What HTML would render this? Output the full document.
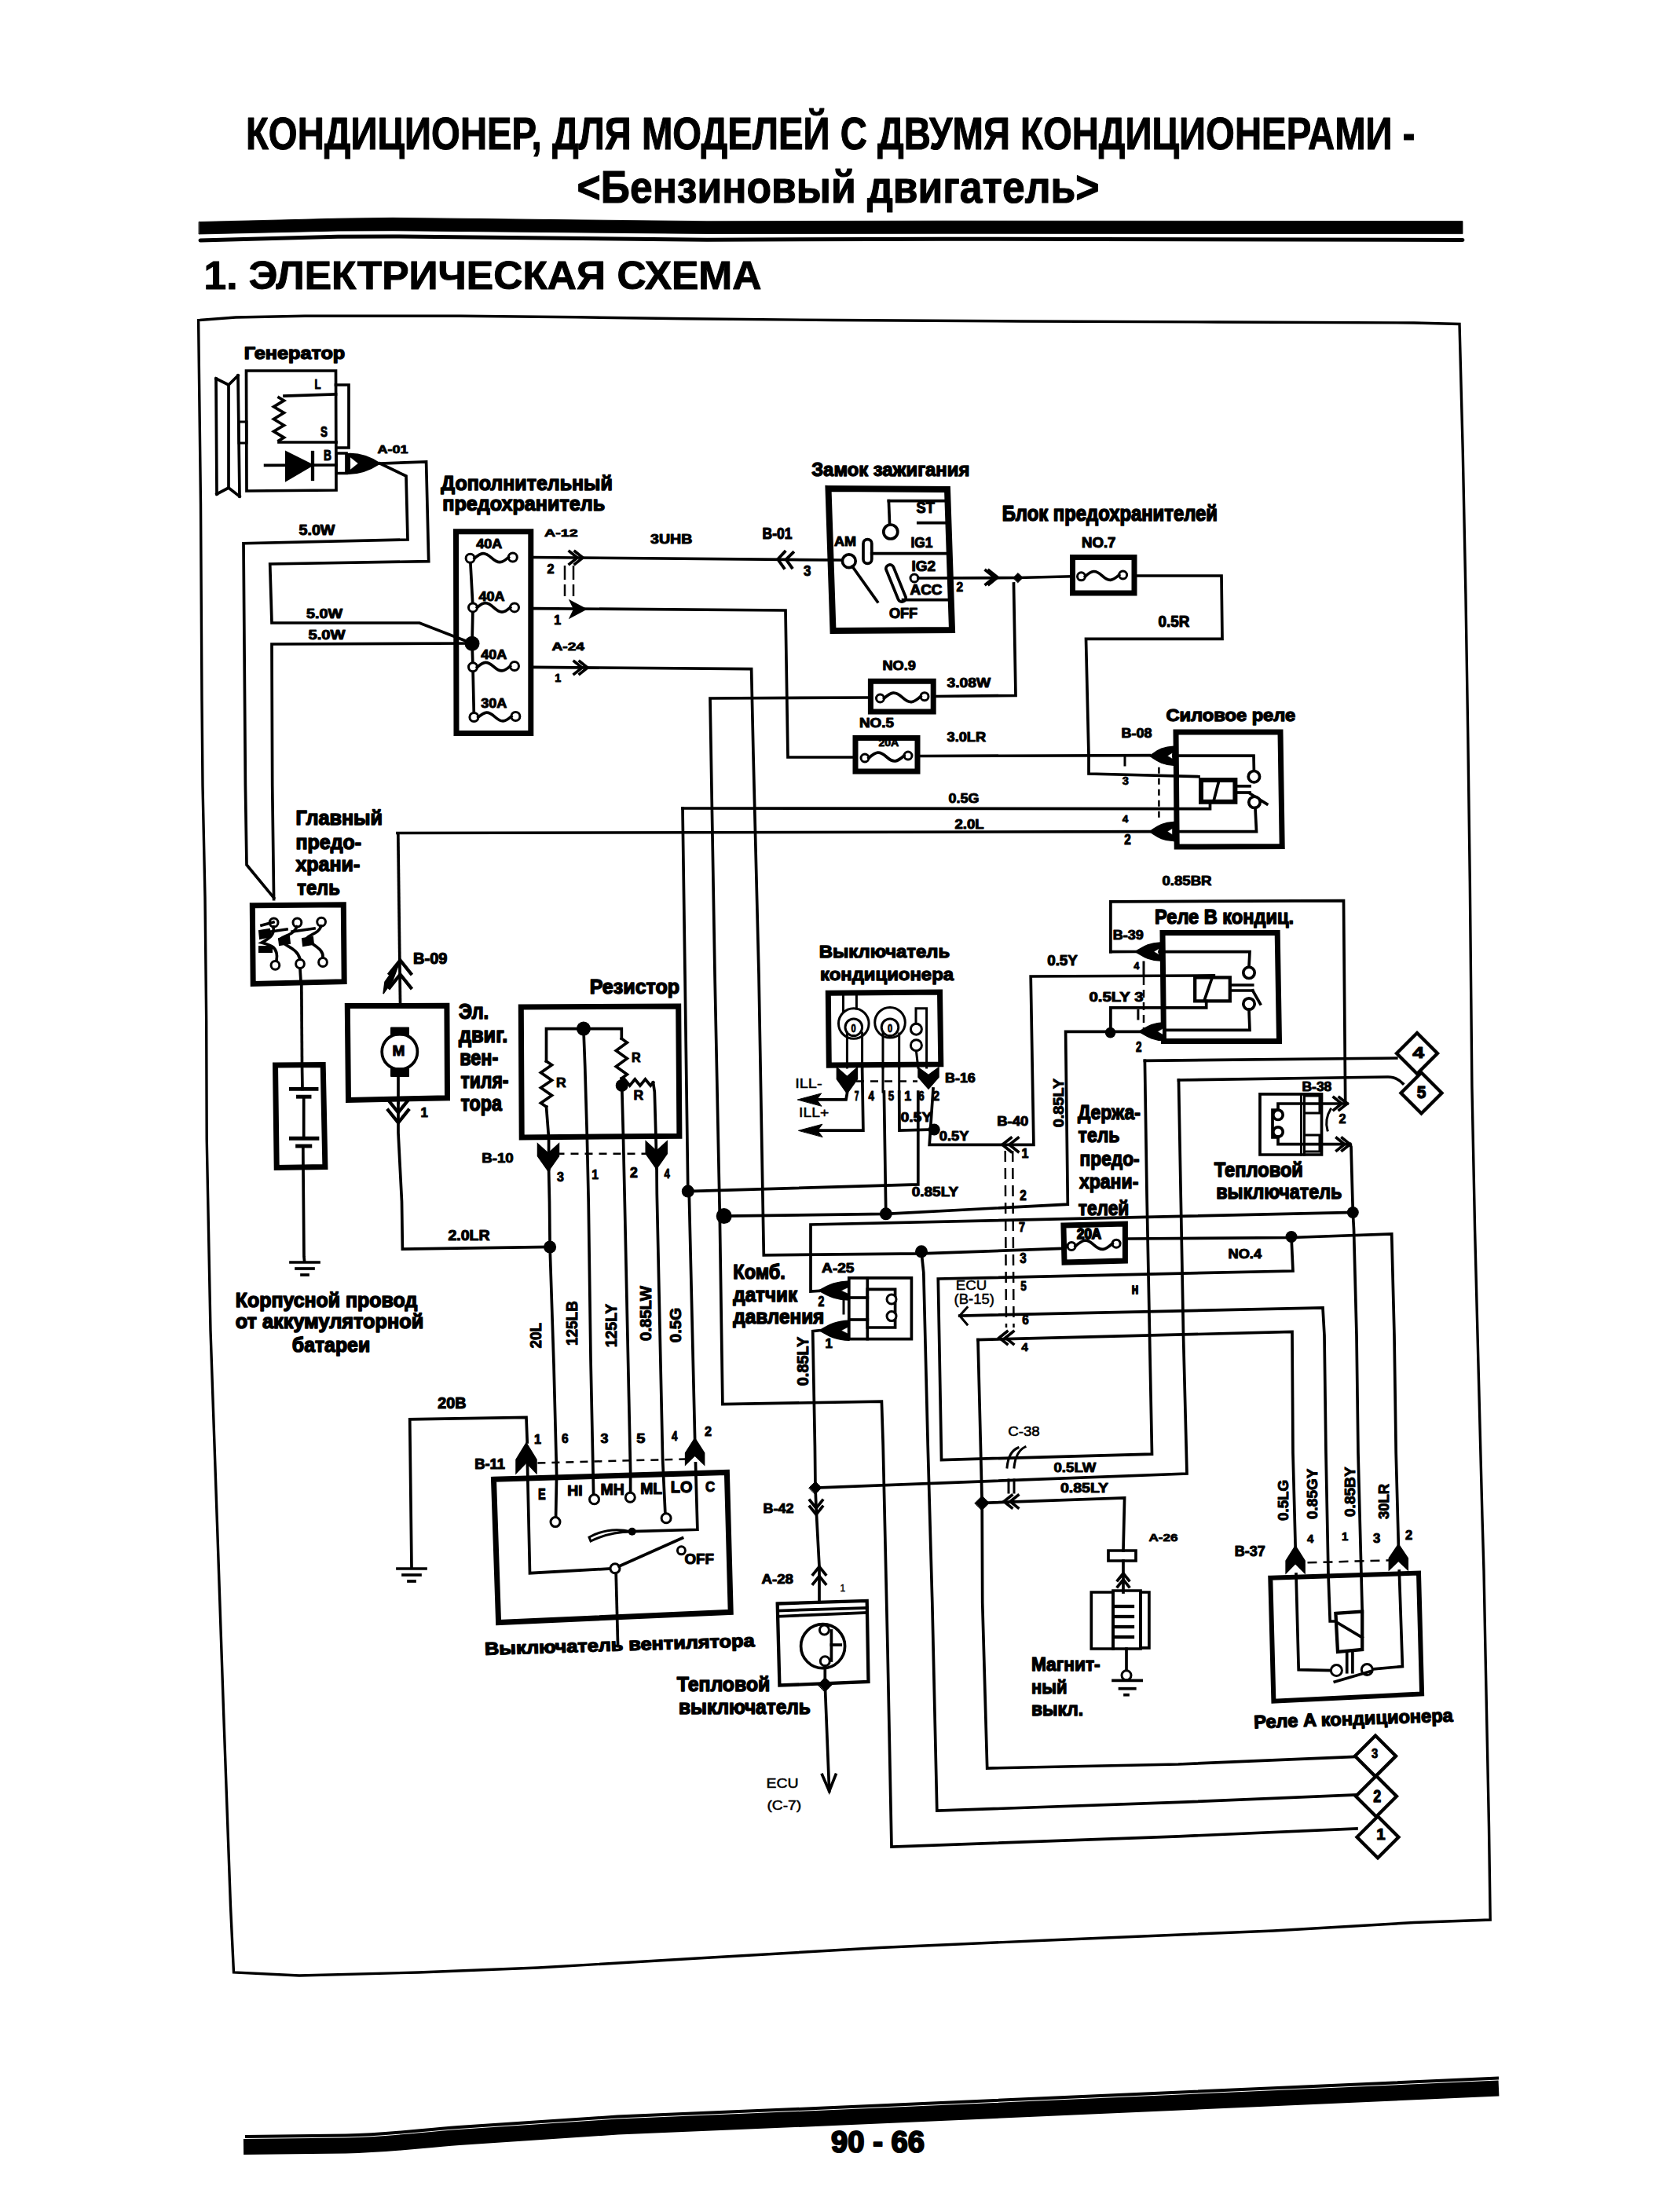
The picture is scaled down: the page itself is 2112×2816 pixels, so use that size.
<!DOCTYPE html>
<html><head><meta charset="utf-8"><title>Кондиционер - электрическая схема</title>
<style>
html,body{margin:0;padding:0;background:#fff;}
body{width:2112px;height:2816px;overflow:hidden;}
svg{display:block;}
svg text{font-family:"Liberation Sans",sans-serif;fill:#000;stroke:#000;stroke-linejoin:round;}
</style></head>
<body>
<svg width="2112" height="2816" viewBox="0 0 2112 2816">
<rect x="0" y="0" width="2112" height="2816" fill="#fff"/>
<g fill="none" stroke="#000" stroke-linejoin="miter" stroke-linecap="square">
<text x="313" y="189.5" font-size="56.9" font-weight="bold" stroke-width="1.1" textLength="1488.5" lengthAdjust="spacingAndGlyphs">КОНДИЦИОНЕР, ДЛЯ МОДЕЛЕЙ С ДВУМЯ КОНДИЦИОНЕРАМИ -</text>
<text x="734.6" y="258.4" font-size="57.9" font-weight="bold" stroke-width="1.2" textLength="664.8" lengthAdjust="spacingAndGlyphs">&lt;Бензиновый двигатель&gt;</text>
<polygon points="253.5,282.5 430,278.2 500,277.3 900,281.7 1200,281.2 1862,281.6 1862,297.6 1200,297.3 900,297.5 500,293.7 430,294 253.5,298" stroke-width="0.8" fill="#000"/>
<path d="M255 306 L430 301.2 L500 301 L900 305.3 L1200 304.2 L1862 305.4" stroke-width="5" fill="none" stroke-linecap="round"/>
<text x="259.5" y="367.5" font-size="49.4" font-weight="bold" stroke-width="1" textLength="710" lengthAdjust="spacingAndGlyphs">1. ЭЛЕКТРИЧЕСКАЯ СХЕМА</text>
<path d="M252.6 407.6 L300 404 L388 402.3 L586 402.3 L734 403.8 L873 405.8 L1060 407.5 L1300 409 L1550 410 L1800 411 L1858 412.5 L1862.2 573 L1865.9 756 L1868.8 939 L1871.3 1122 L1873.9 1383 L1877.6 1566 L1882.3 1749 L1887 1932 L1889 2000 L1891.1 2108.5 L1893.3 2217 L1895.5 2325.5 L1897.2 2444 L1800 2447.5 L1621 2458 L1341 2469.7 L1120 2479.5 L888 2493 L685 2505 L533 2511 L381 2515 L297.5 2511 L293.5 2426.6 L284.7 2182 L276.4 1938 L268 1694 L263.2 1450 L262.7 1300 L261 1142 L258 1000 L257 892 L255.5 641 Z" stroke-width="3.4" fill="none"/>
<path d="M310 2733 L440 2731.5 C500 2730 530 2725 584 2721 L786 2707.6 L1050 2696.5 L1908 2658.5" stroke-width="20" fill="none" stroke-linecap="butt"/>
<path d="M312 2720 L440 2718.5 C500 2717 530 2712 584 2708 L786 2694.6 L1050 2683.5 L1908 2645.5" stroke-width="4" fill="none" stroke-linecap="butt"/>
<text x="1058.1" y="2739.9" font-size="39" font-weight="bold" stroke-width="2.2" textLength="118.8" lengthAdjust="spacingAndGlyphs">90 - 66</text>
<text x="310.7" y="457.3" font-size="22.7" font-weight="bold" stroke-width="1.4" textLength="128.6" lengthAdjust="spacingAndGlyphs">Генератор</text>
<polyline points="275,482 291,490 303,478" stroke-width="3.7"/>
<line x1="275" y1="482" x2="276" y2="629" stroke-width="3.7"/>
<line x1="291" y1="490" x2="291" y2="621" stroke-width="3.7"/>
<line x1="303" y1="478" x2="305" y2="632" stroke-width="3.7"/>
<polyline points="276,629 291,621 305,632" stroke-width="3.7"/>
<polygon points="304,537 314,537 314,564 304,564" stroke-width="3" fill="none"/>
<polygon points="313.5,472 427.5,472 428,624 314,625" stroke-width="3.7" fill="none"/>
<polyline points="427.5,490 444,490 444,570 428,570" stroke-width="3.7"/>
<text x="400.5" y="494.5" font-size="16" font-weight="bold" stroke-width="1" textLength="8" lengthAdjust="spacingAndGlyphs">L</text>
<text x="408" y="556.2" font-size="17.6" font-weight="bold" stroke-width="1.1" textLength="8.9" lengthAdjust="spacingAndGlyphs">S</text>
<text x="412.1" y="586.4" font-size="17.8" font-weight="bold" stroke-width="1.1" textLength="9.9" lengthAdjust="spacingAndGlyphs">B</text>
<line x1="427.5" y1="502" x2="362" y2="504" stroke-width="3.7"/>
<polyline points="355,506 361.5,509.9 348.5,517.8 361.5,525.6 348.5,533.5 361.5,541.4 348.5,549.2 361.5,557.1 355,561" stroke-width="3.7"/>
<line x1="355" y1="563" x2="428" y2="563" stroke-width="3.7"/>
<line x1="337.6" y1="592.4" x2="428" y2="592" stroke-width="3.7"/>
<polygon points="364,575 364,612 398,592" stroke-width="2" fill="#000"/>
<line x1="398" y1="576" x2="398" y2="610" stroke-width="4.3"/>
<polygon points="428,577 441,577 441,602.5 428,602.5" stroke-width="3.7" fill="none"/>
<path d="M441 578 Q462 576 483.5 590 Q462 604 441 603 Z" stroke-width="2" fill="#000"/>
<polygon points="446,582 456,590 446,598" stroke-width="0.5" fill="#fff"/>
<text x="480.4" y="576.6" font-size="14.7" font-weight="bold" stroke-width="0.9" textLength="39.1" lengthAdjust="spacingAndGlyphs">A-01</text>
<polyline points="483.5,590 542.6,588 545.7,714.6 343.7,718 346,793 534,793 601,819" stroke-width="3.7"/>
<polyline points="483.5,590 517,606 519,687 310,691.7 312.4,1000 314,1101 348.6,1142.9" stroke-width="3.7"/>
<polyline points="601,819 346,820 346.7,1000 348.6,1144.7" stroke-width="3.7"/>
<text x="380.5" y="680.5" font-size="17.9" font-weight="bold" stroke-width="1.1" textLength="45.9" lengthAdjust="spacingAndGlyphs">5.0W</text>
<text x="390" y="786.5" font-size="16" font-weight="bold" stroke-width="1" textLength="46" lengthAdjust="spacingAndGlyphs">5.0W</text>
<text x="392.5" y="813.5" font-size="16" font-weight="bold" stroke-width="1" textLength="47" lengthAdjust="spacingAndGlyphs">5.0W</text>
<text x="561.3" y="624.2" font-size="25.7" font-weight="bold" stroke-width="1.5" textLength="218.5" lengthAdjust="spacingAndGlyphs">Дополнительный</text>
<text x="563.2" y="649.6" font-size="25.7" font-weight="bold" stroke-width="1.5" textLength="207.1" lengthAdjust="spacingAndGlyphs">предохранитель</text>
<polygon points="580.5,676.8 675.8,676.8 675.8,933.5 581,933.5" stroke-width="7" fill="none"/>
<polyline points="598.6,710.7 602,773.4 601,819 602,849.3 603.4,913" stroke-width="3.7"/>
<circle cx="601" cy="819.2" r="9.5" fill="#000" stroke="none"/>
<circle cx="598.6" cy="710.7" r="5.5" stroke-width="3" fill="#fff"/>
<circle cx="652.8" cy="709.5" r="5.5" stroke-width="3" fill="#fff"/>
<path d="M604.1 710.7 C612.7 702.9 617.1 702.3 625.7 710.1 S638.7 717.3 647.3 709.5" stroke-width="3.7" fill="none"/>
<text x="606.3" y="698.1" font-size="16" font-weight="bold" stroke-width="1" textLength="33" lengthAdjust="spacingAndGlyphs">40A</text>
<circle cx="602" cy="773.4" r="5.5" stroke-width="3" fill="#fff"/>
<circle cx="655" cy="773.4" r="5.5" stroke-width="3" fill="#fff"/>
<path d="M607.5 773.4 C615.9 765.8 620.1 765.8 628.5 773.4 S641.1 781 649.5 773.4" stroke-width="3.7" fill="none"/>
<text x="609.5" y="764.5" font-size="16.2" font-weight="bold" stroke-width="1" textLength="33" lengthAdjust="spacingAndGlyphs">40A</text>
<circle cx="602" cy="849.3" r="5.5" stroke-width="3" fill="#fff"/>
<circle cx="655" cy="848" r="5.5" stroke-width="3" fill="#fff"/>
<path d="M607.5 849.3 C615.9 841.7 620.1 841.1 628.5 848.6 S641.1 855.6 649.5 848" stroke-width="3.7" fill="none"/>
<text x="612.3" y="839.2" font-size="16.2" font-weight="bold" stroke-width="1" textLength="33" lengthAdjust="spacingAndGlyphs">40A</text>
<circle cx="603.4" cy="913" r="5.5" stroke-width="3" fill="#fff"/>
<circle cx="656.4" cy="912" r="5.5" stroke-width="3" fill="#fff"/>
<path d="M608.9 913 C617.3 905.4 621.5 904.9 629.9 912.5 S642.5 919.6 650.9 912" stroke-width="3.7" fill="none"/>
<text x="612.3" y="900.5" font-size="16" font-weight="bold" stroke-width="1" textLength="33" lengthAdjust="spacingAndGlyphs">30A</text>
<polyline points="679.3,709.5 1001,712.4 1072,713" stroke-width="3.7"/>
<polyline points="732,702 742,710 732,718" stroke-width="3.7"/>
<polyline points="725,702 735,710 725,718" stroke-width="3.7"/>
<polyline points="999,702.5 990.2,712 998,723" stroke-width="3.9"/>
<polyline points="1009.5,703.5 1000.7,712.2 1008,722.5" stroke-width="3.9"/>
<line x1="719" y1="720" x2="719" y2="759" stroke-width="2.5" stroke-dasharray="18 6" stroke-linecap="butt"/>
<line x1="730" y1="720" x2="730" y2="759" stroke-width="2.5" stroke-dasharray="18 6" stroke-linecap="butt"/>
<text x="693" y="682.6" font-size="13.4" font-weight="bold" stroke-width="0.8" textLength="42.6" lengthAdjust="spacingAndGlyphs">A-12</text>
<text x="828.1" y="692.1" font-size="16.2" font-weight="bold" stroke-width="1" textLength="53.3" lengthAdjust="spacingAndGlyphs">3UHB</text>
<text x="970.6" y="686.4" font-size="19.4" font-weight="bold" stroke-width="1.2" textLength="37.8" lengthAdjust="spacingAndGlyphs">B-01</text>
<text x="696.5" y="729.5" font-size="16" font-weight="bold" stroke-width="1" textLength="9" lengthAdjust="spacingAndGlyphs">2</text>
<text x="1023" y="733.4" font-size="19" font-weight="bold" stroke-width="1.1" textLength="9.4" lengthAdjust="spacingAndGlyphs">3</text>
<polyline points="679.3,774.6 1000,777 1003,964 1086,964" stroke-width="3.7"/>
<polygon points="745.6,775.5 726,765 731,775.5 726,786" stroke-width="2" fill="#000"/>
<text x="705.2" y="794.5" font-size="16" font-weight="bold" stroke-width="1">1</text>
<polyline points="679.3,849.3 956.6,851.7 959,960 966,1240 972.3,1597.9 1173,1595.9 1350.4,1589.5" stroke-width="3.7"/>
<polyline points="738,842 748,850 738,858" stroke-width="3.7"/>
<polyline points="731,842 741,850 731,858" stroke-width="3.7"/>
<text x="702.4" y="828.4" font-size="14.4" font-weight="bold" stroke-width="0.9" textLength="41.6" lengthAdjust="spacingAndGlyphs">A-24</text>
<text x="706.2" y="868.2" font-size="14.4" font-weight="bold" stroke-width="0.9">1</text>
<text x="1033.2" y="606.3" font-size="24.1" font-weight="bold" stroke-width="1.4" textLength="201.1" lengthAdjust="spacingAndGlyphs">Замок зажигания</text>
<polygon points="1054.5,621.9 1206,622.9 1212,802 1060.5,803" stroke-width="8" fill="none"/>
<circle cx="1080.8" cy="714.3" r="8.4" stroke-width="3.7" fill="#fff"/>
<line x1="1085" y1="721" x2="1117" y2="766" stroke-width="3.7"/>
<text x="1062" y="694.5" font-size="16" font-weight="bold" stroke-width="1" textLength="28" lengthAdjust="spacingAndGlyphs">AM</text>
<path d="M1099 692 a5.4 5.4 0 0 1 10.8 0 L1109.8 712 a5.4 5.4 0 0 1 -10.8 0 Z" stroke-width="3.7" fill="none"/>
<line x1="1109.7" y1="704.7" x2="1207" y2="704.7" stroke-width="3.7"/>
<text x="1159.5" y="696.9" font-size="17.9" font-weight="bold" stroke-width="1.1" textLength="27.9" lengthAdjust="spacingAndGlyphs">IG1</text>
<line x1="1131.4" y1="637.6" x2="1205" y2="637.6" stroke-width="3.7"/>
<line x1="1131.4" y1="637.6" x2="1132.6" y2="668.5" stroke-width="3.7"/>
<circle cx="1133.8" cy="677" r="9" stroke-width="3.7" fill="#fff"/>
<text x="1166.6" y="653.4" font-size="19.3" font-weight="bold" stroke-width="1.2" textLength="23.3" lengthAdjust="spacingAndGlyphs">ST</text>
<line x1="1168.8" y1="665.6" x2="1206" y2="665.6" stroke-width="3.7"/>
<text x="1160.5" y="727.1" font-size="17.8" font-weight="bold" stroke-width="1.1" textLength="30.6" lengthAdjust="spacingAndGlyphs">IG2</text>
<circle cx="1164" cy="736" r="5" stroke-width="3" fill="#fff"/>
<polyline points="1169,736 1296,735.5 1364,733.8" stroke-width="3.7"/>
<text x="1158.5" y="757.2" font-size="17.6" font-weight="bold" stroke-width="1.1" textLength="40.9" lengthAdjust="spacingAndGlyphs">ACC</text>
<line x1="1149.5" y1="763.7" x2="1208" y2="763.7" stroke-width="3.7"/>
<path d="M1128 725 a5 5 0 0 1 9.5 -3 L1153 760 a5 5 0 0 1 -9.5 3 Z" stroke-width="3.7" fill="none"/>
<text x="1131.9" y="787.3" font-size="17.6" font-weight="bold" stroke-width="1.1" textLength="36.3" lengthAdjust="spacingAndGlyphs">OFF</text>
<text x="1217.5" y="752.5" font-size="16.3" font-weight="bold" stroke-width="1" textLength="8.6" lengthAdjust="spacingAndGlyphs">2</text>
<polyline points="1259,726.2 1270,735 1259,743.8" stroke-width="3.7"/>
<polyline points="1255,726.2 1266,735 1255,743.8" stroke-width="3.7"/>
<polygon points="1290,735.5 1296,729.5 1302,735.5 1296,741.5" stroke-width="1" fill="#000"/>
<polyline points="1290.5,743 1293,885.5 1191.7,886.5" stroke-width="3.7"/>
<text x="1275.7" y="662.9" font-size="27.7" font-weight="bold" stroke-width="1.7" textLength="274.3" lengthAdjust="spacingAndGlyphs">Блок предохранителей</text>
<polygon points="1365.5,709.5 1444,709.5 1444,755 1365.5,755" stroke-width="7" fill="none"/>
<circle cx="1376.5" cy="733.8" r="5" stroke-width="3" fill="#fff"/>
<circle cx="1429.6" cy="732" r="5" stroke-width="3" fill="#fff"/>
<path d="M1381.5 733.8 C1390.1 726 1394.4 725.1 1403 732.9 S1416 739.8 1424.6 732" stroke-width="3.7" fill="none"/>
<text x="1377" y="697.1" font-size="17.6" font-weight="bold" stroke-width="1.1" textLength="43.4" lengthAdjust="spacingAndGlyphs">NO.7</text>
<polyline points="1447.6,733 1555,733 1556,813.4 1382.5,813.4 1386,961.7 1386,985 1526,988.7" stroke-width="3.7"/>
<text x="1474.6" y="798.4" font-size="19.4" font-weight="bold" stroke-width="1.2" textLength="39.8" lengthAdjust="spacingAndGlyphs">0.5R</text>
<polygon points="1108.4,867.3 1188.2,867.3 1188.2,906.1 1108.4,906.1" stroke-width="7" fill="none"/>
<circle cx="1120.5" cy="889" r="5" stroke-width="3" fill="#fff"/>
<circle cx="1177" cy="886.7" r="5" stroke-width="3" fill="#fff"/>
<path d="M1125.5 889 C1134.8 880.6 1139.5 879.5 1148.8 887.9 S1162.7 895.1 1172 886.7" stroke-width="3.7" fill="none"/>
<text x="1123.5" y="852.5" font-size="16.2" font-weight="bold" stroke-width="1" textLength="42.4" lengthAdjust="spacingAndGlyphs">NO.9</text>
<text x="1205.5" y="875.4" font-size="16.2" font-weight="bold" stroke-width="1" textLength="55.6" lengthAdjust="spacingAndGlyphs">3.08W</text>
<polyline points="1105,888 904,889 910,1240 916.3,1548 919.9,1787.7 1122.4,1784.1 1124.2,1840 1130,2100 1135,2351 1500,2337.8 1727,2328" stroke-width="3.7"/>
<polygon points="1089,939.5 1168,939.5 1168,982 1089,982" stroke-width="7" fill="none"/>
<circle cx="1101" cy="965" r="5" stroke-width="3" fill="#fff"/>
<circle cx="1156" cy="962" r="5" stroke-width="3" fill="#fff"/>
<path d="M1106 965 C1115 956.9 1119.5 955.4 1128.5 963.5 S1142 970.1 1151 962" stroke-width="3.7" fill="none"/>
<text x="1094" y="926" font-size="16.2" font-weight="bold" stroke-width="1" textLength="44" lengthAdjust="spacingAndGlyphs">NO.5</text>
<text x="1118.4" y="950.2" font-size="12.8" font-weight="bold" stroke-width="0.8" textLength="25.9" lengthAdjust="spacingAndGlyphs">20A</text>
<text x="1205.5" y="944.1" font-size="16.2" font-weight="bold" stroke-width="1" textLength="49.6" lengthAdjust="spacingAndGlyphs">3.0LR</text>
<line x1="1171" y1="962.5" x2="1463.3" y2="961.7" stroke-width="3.7"/>
<text x="1484.5" y="917.6" font-size="22.6" font-weight="bold" stroke-width="1.4" textLength="164.6" lengthAdjust="spacingAndGlyphs">Силовое реле</text>
<text x="1427.5" y="938.5" font-size="16" font-weight="bold" stroke-width="1" textLength="39" lengthAdjust="spacingAndGlyphs">B-08</text>
<polygon points="1497,931.9 1630,931.9 1632.2,1077.5 1498.2,1078" stroke-width="7" fill="none"/>
<path d="M1463.3 962.2 C1471 958 1477.2 950.8 1494.3 950.2 L1494.3 974.2 C1477.2 973.6 1471 966.4 1463.3 962.2 Z" stroke-width="1.5" fill="#000"/>
<polygon points="1492.3,958.4 1486.2,962.2 1492.3,966" stroke-width="0.5" fill="#fff"/>
<polyline points="1494,962.2 1596,962.2 1596.4,981.5" stroke-width="3.7"/>
<circle cx="1596.4" cy="988.7" r="7.2" stroke-width="3.7" fill="#fff"/>
<polygon points="1529,993 1572.4,993 1572.4,1020.7 1529,1020.7" stroke-width="6" fill="none"/>
<line x1="1551" y1="997" x2="1545" y2="1020" stroke-width="3.7"/>
<line x1="1575" y1="1000.8" x2="1591" y2="1000.8" stroke-width="3.7"/>
<line x1="1575" y1="1009" x2="1591" y2="1009" stroke-width="3.7"/>
<line x1="1591" y1="1010" x2="1612.8" y2="1023.7" stroke-width="3.7"/>
<circle cx="1597" cy="1021.3" r="7.2" stroke-width="3.7" fill="#fff"/>
<polyline points="1598,1028.5 1599.5,1058.6 1494,1058.6" stroke-width="3.7"/>
<path d="M1463.3 1058.6 C1471 1054.4 1477.2 1047.2 1494.3 1046.6 L1494.3 1070.6 C1477.2 1070 1471 1062.8 1463.3 1058.6 Z" stroke-width="1.5" fill="#000"/>
<polygon points="1492.3,1054.8 1486.2,1058.6 1492.3,1062.4" stroke-width="0.5" fill="#fff"/>
<text x="1428.8" y="999.2" font-size="14.6" font-weight="bold" stroke-width="0.9" textLength="8.1" lengthAdjust="spacingAndGlyphs">3</text>
<line x1="1432" y1="963.4" x2="1432" y2="974" stroke-width="3"/>
<text x="1428.8" y="1047.4" font-size="13.1" font-weight="bold" stroke-width="0.8" textLength="7.6" lengthAdjust="spacingAndGlyphs">4</text>
<text x="1431.3" y="1075" font-size="18" font-weight="bold" stroke-width="1.1" textLength="8.5" lengthAdjust="spacingAndGlyphs">2</text>
<line x1="1475.4" y1="976.7" x2="1475.4" y2="1045.4" stroke-width="2.5" stroke-dasharray="8 6" stroke-linecap="butt"/>
<polyline points="869,1029 1540.5,1029.7 1540.5,1024" stroke-width="3.7"/>
<text x="1207.5" y="1021.5" font-size="17.4" font-weight="bold" stroke-width="1" textLength="39" lengthAdjust="spacingAndGlyphs">0.5G</text>
<line x1="506" y1="1060.5" x2="1463.3" y2="1058.6" stroke-width="3.7"/>
<text x="1215.5" y="1054.5" font-size="16" font-weight="bold" stroke-width="1" textLength="37" lengthAdjust="spacingAndGlyphs">2.0L</text>
<text x="1479.5" y="1126.9" font-size="16.2" font-weight="bold" stroke-width="1" textLength="63" lengthAdjust="spacingAndGlyphs">0.85BR</text>
<polyline points="1413.9,1211.7 1413.9,1147.9 1710.5,1146.6 1712.7,1402.5 1715,1405" stroke-width="3.7"/>
<text x="1470.1" y="1176" font-size="25.8" font-weight="bold" stroke-width="1.5" textLength="177" lengthAdjust="spacingAndGlyphs">Реле B кондиц.</text>
<text x="1416.8" y="1195.5" font-size="16" font-weight="bold" stroke-width="1" textLength="39" lengthAdjust="spacingAndGlyphs">B-39</text>
<polygon points="1480,1187.5 1626.2,1187.5 1628.5,1325.5 1481.5,1325.5" stroke-width="7" fill="none"/>
<line x1="1413.9" y1="1211.7" x2="1445.2" y2="1211.5" stroke-width="3.7"/>
<path d="M1445.2 1211.5 C1453.2 1207.5 1459.6 1200.6 1477.2 1200 L1477.2 1223 C1459.6 1222.4 1453.2 1215.5 1445.2 1211.5 Z" stroke-width="1.5" fill="#000"/>
<polygon points="1475.2,1207.8 1468.9,1211.5 1475.2,1215.2" stroke-width="0.5" fill="#fff"/>
<polyline points="1476,1211.7 1591,1211.7 1590,1231" stroke-width="3.7"/>
<circle cx="1590" cy="1238.3" r="7.2" stroke-width="3.7" fill="#fff"/>
<text x="1443.2" y="1234.2" font-size="12.8" font-weight="bold" stroke-width="0.8" textLength="7.2" lengthAdjust="spacingAndGlyphs">4</text>
<line x1="1456" y1="1225" x2="1456" y2="1240" stroke-width="3"/>
<polyline points="1188,1386 1183.2,1457.3 1315.9,1457.3 1312.2,1243 1545.3,1241.9" stroke-width="3.7"/>
<text x="1333.2" y="1228.9" font-size="17.9" font-weight="bold" stroke-width="1.1" textLength="38.7" lengthAdjust="spacingAndGlyphs">0.5Y</text>
<polygon points="1521.2,1244.3 1565.8,1244.3 1565.8,1274.4 1521.2,1274.4" stroke-width="4.3" fill="none"/>
<line x1="1543" y1="1245" x2="1533" y2="1274" stroke-width="3.7"/>
<line x1="1566" y1="1254" x2="1594.7" y2="1254" stroke-width="3.7"/>
<line x1="1566" y1="1261" x2="1594.7" y2="1261" stroke-width="3.7"/>
<line x1="1594.7" y1="1261" x2="1604.4" y2="1278" stroke-width="3.7"/>
<circle cx="1590" cy="1278" r="7.2" stroke-width="3.7" fill="#fff"/>
<polyline points="1590,1285 1591,1311.3 1484,1311.3" stroke-width="3.7"/>
<text x="1386.5" y="1275.1" font-size="16" font-weight="bold" stroke-width="1" textLength="69" lengthAdjust="spacingAndGlyphs">0.5LY 3</text>
<line x1="1456" y1="1244" x2="1456" y2="1315" stroke-width="2.5" stroke-dasharray="10 6" stroke-linecap="butt"/>
<polyline points="1413.9,1314.6 1413.9,1282.9 1535.7,1282.9 1535.7,1274.4" stroke-width="3.7"/>
<line x1="1448.9" y1="1286.5" x2="1448.9" y2="1297" stroke-width="3"/>
<circle cx="1413.6" cy="1314.6" r="6.8" fill="#000" stroke="none"/>
<path d="M1450 1313.3 C1458 1309.3 1464.4 1302.4 1482 1301.8 L1482 1324.8 C1464.4 1324.2 1458 1317.3 1450 1313.3 Z" stroke-width="1.5" fill="#000"/>
<polygon points="1480,1309.6 1473.7,1313.3 1480,1317" stroke-width="0.5" fill="#fff"/>
<text x="1445.9" y="1338.6" font-size="17.6" font-weight="bold" stroke-width="1.1" textLength="7.5" lengthAdjust="spacingAndGlyphs">2</text>
<polyline points="921.7,1548.1 1127.8,1545.3 1359.3,1533.2 1356.6,1313.3 1450,1313.3" stroke-width="3.7"/>
<text x="1353.8" y="1435.3" font-size="19" font-weight="bold" textLength="62.3" lengthAdjust="spacingAndGlyphs" transform="rotate(-90 1353.8 1435.3)">0.85LY</text>
<polygon points="1778,1341 1804,1315 1830,1341 1804,1367" stroke-width="4.3" fill="none"/>
<text x="1798.2" y="1347.4" font-size="20.7" font-weight="bold" stroke-width="1.2" textLength="14.8" lengthAdjust="spacingAndGlyphs">4</text>
<polygon points="1783.5,1391.5 1809.5,1365.5 1835.5,1391.5 1809.5,1417.5" stroke-width="4.3" fill="none"/>
<text x="1803.7" y="1398.3" font-size="22.7" font-weight="bold" stroke-width="1.4" textLength="11.6" lengthAdjust="spacingAndGlyphs">5</text>
<line x1="1457.4" y1="1350.4" x2="1777.8" y2="1347" stroke-width="3.7"/>
<path d="M1500.5 1375 L1767 1371 Q1778 1371 1786 1379.5" stroke-width="3.7" fill="none"/>
<text x="1657.5" y="1388.5" font-size="16" font-weight="bold" stroke-width="1" textLength="37.8" lengthAdjust="spacingAndGlyphs">B-38</text>
<polygon points="1604,1392.8 1682.5,1392.8 1682.5,1470 1604,1470" stroke-width="3.7" fill="none"/>
<circle cx="1627" cy="1419.3" r="6.2" stroke-width="3.7" fill="#fff"/>
<circle cx="1627" cy="1441" r="6.2" stroke-width="3.7" fill="#fff"/>
<polyline points="1627,1413 1620,1413 1620,1448 1627,1448" stroke-width="3.7"/>
<polyline points="1627,1413 1627,1405 1715,1405" stroke-width="3.7"/>
<polyline points="1627,1447 1627,1456.7 1718.7,1456.7" stroke-width="3.7"/>
<line x1="1656.5" y1="1392.8" x2="1656.5" y2="1470" stroke-width="3"/>
<line x1="1660.5" y1="1392.8" x2="1660.5" y2="1470" stroke-width="3"/>
<polygon points="1660.5,1395 1680,1395 1680,1417 1660.5,1417" stroke-width="3" fill="none"/>
<polygon points="1660.5,1445 1680,1445 1680,1466 1660.5,1466" stroke-width="3" fill="none"/>
<polyline points="1705,1397 1715,1405 1705,1413" stroke-width="3.7"/>
<polyline points="1698,1397 1708,1405 1698,1413" stroke-width="3.7"/>
<polyline points="1708.7,1448.7 1718.7,1456.7 1708.7,1464.7" stroke-width="3.7"/>
<polyline points="1701.7,1448.7 1711.7,1456.7 1701.7,1464.7" stroke-width="3.7"/>
<path d="M1694 1412 Q1686 1425 1690 1439" stroke-width="3" fill="none"/>
<text x="1704.5" y="1429.5" font-size="16" font-weight="bold" stroke-width="1" textLength="9" lengthAdjust="spacingAndGlyphs">2</text>
<polyline points="1718.7,1456.7 1720,1460 1722.3,1543.5 1723.5,1565 1727,1700 1729,1850 1734.2,2051.8" stroke-width="3.7"/>
<circle cx="1722.3" cy="1543.5" r="7.5" fill="#000" stroke="none"/>
<text x="1545.8" y="1498.1" font-size="25.8" font-weight="bold" stroke-width="1.5" textLength="113.1" lengthAdjust="spacingAndGlyphs">Тепловой</text>
<text x="1548.3" y="1525.8" font-size="25.8" font-weight="bold" stroke-width="1.5" textLength="160" lengthAdjust="spacingAndGlyphs">выключатель</text>
<text x="1042.7" y="1219.1" font-size="22.5" font-weight="bold" stroke-width="1.3" textLength="166.5" lengthAdjust="spacingAndGlyphs">Выключатель</text>
<text x="1044.1" y="1248" font-size="22.4" font-weight="bold" stroke-width="1.3" textLength="169.9" lengthAdjust="spacingAndGlyphs">кондиционера</text>
<polygon points="1054.3,1264.3 1196.5,1263.1 1197.8,1354.9 1055.3,1356.1" stroke-width="7" fill="none"/>
<circle cx="1086.8" cy="1303" r="19.3" stroke-width="3" fill="#fff"/>
<circle cx="1086.8" cy="1307.8" r="10.8" stroke-width="3" fill="#fff"/>
<text x="1083.4" y="1313.6" font-size="14.7" font-weight="bold" stroke-width="0.9" textLength="6.1" lengthAdjust="spacingAndGlyphs">0</text>
<line x1="1073.5" y1="1268" x2="1073.5" y2="1288" stroke-width="3"/>
<line x1="1090.4" y1="1268" x2="1090.4" y2="1284" stroke-width="3"/>
<line x1="1078.4" y1="1315" x2="1078.4" y2="1359" stroke-width="3"/>
<line x1="1097.6" y1="1315" x2="1097.6" y2="1359" stroke-width="3"/>
<circle cx="1133" cy="1301.8" r="19.3" stroke-width="3" fill="#fff"/>
<circle cx="1133" cy="1307.8" r="10.8" stroke-width="3" fill="#fff"/>
<text x="1129.9" y="1313.6" font-size="14.7" font-weight="bold" stroke-width="0.9" textLength="6.1" lengthAdjust="spacingAndGlyphs">0</text>
<line x1="1124" y1="1316" x2="1124" y2="1359" stroke-width="3"/>
<line x1="1144.7" y1="1316" x2="1144.7" y2="1359" stroke-width="3"/>
<circle cx="1166.4" cy="1310.2" r="7" stroke-width="3" fill="#fff"/>
<circle cx="1166.4" cy="1330.7" r="7" stroke-width="3" fill="#fff"/>
<polyline points="1166,1303 1166,1283.7 1179.6,1283.7 1179.6,1359" stroke-width="3"/>
<line x1="1166.4" y1="1338" x2="1168.8" y2="1359" stroke-width="3"/>
<polygon points="1065.4,1359 1078.4,1370.5 1091.4,1359 1091.4,1373.8 1078.4,1392 1065.4,1373.8" stroke-width="1.5" fill="#000"/>
<polygon points="1169,1359 1182,1368.5 1195,1359 1195,1371.2 1182,1386 1169,1371.2" stroke-width="1.5" fill="#000"/>
<line x1="1090" y1="1376.5" x2="1168" y2="1376.5" stroke-width="2.5" stroke-dasharray="10 8" stroke-linecap="butt"/>
<text x="1203" y="1378.4" font-size="16" font-weight="bold" stroke-width="1" textLength="38.8" lengthAdjust="spacingAndGlyphs">B-16</text>
<text x="1087.8" y="1401.3" font-size="16" font-weight="bold" stroke-width="1" textLength="5.7" lengthAdjust="spacingAndGlyphs">7</text>
<text x="1105.4" y="1401.3" font-size="16" font-weight="bold" stroke-width="1" textLength="7.4" lengthAdjust="spacingAndGlyphs">4</text>
<text x="1130.7" y="1401.3" font-size="16" font-weight="bold" stroke-width="1" textLength="7.4" lengthAdjust="spacingAndGlyphs">5</text>
<text x="1151.2" y="1401.3" font-size="16" font-weight="bold" stroke-width="1">1</text>
<text x="1169.3" y="1401.3" font-size="16" font-weight="bold" stroke-width="1" textLength="7.4" lengthAdjust="spacingAndGlyphs">6</text>
<text x="1187.4" y="1401.3" font-size="16" font-weight="bold" stroke-width="1" textLength="8.6" lengthAdjust="spacingAndGlyphs">2</text>
<line x1="1124" y1="1359" x2="1124" y2="1390" stroke-width="3"/>
<line x1="1144.7" y1="1359" x2="1144.7" y2="1390" stroke-width="3"/>
<polyline points="1097.6,1359 1098.9,1439.2 1040,1439.2" stroke-width="3.7"/>
<polygon points="1016.9,1439.2 1046.9,1431.2 1040.9,1439.2 1046.9,1447.2" stroke-width="1" fill="#000"/>
<polyline points="1078.4,1392 1077,1399.9 1040,1399.9" stroke-width="3.7"/>
<polygon points="1015.7,1399.9 1045.7,1391.9 1039.7,1399.9 1045.7,1407.9" stroke-width="1" fill="#000"/>
<text x="1012.2" y="1384.8" font-size="16.2" font-weight="normal" stroke-width="0.5" textLength="34.5" lengthAdjust="spacingAndGlyphs">ILL-</text>
<text x="1017.1" y="1422.1" font-size="16" font-weight="normal" stroke-width="0.5" textLength="38.1" lengthAdjust="spacingAndGlyphs">ILL+</text>
<line x1="1125.4" y1="1390" x2="1127.8" y2="1545.3" stroke-width="3.7"/>
<circle cx="1127.8" cy="1545.3" r="8" fill="#000" stroke="none"/>
<polyline points="1144.7,1390 1145,1439.2 1189.3,1438" stroke-width="3.7"/>
<circle cx="1189.3" cy="1438" r="7.5" fill="#000" stroke="none"/>
<text x="1146.4" y="1427.8" font-size="16" font-weight="bold" stroke-width="1" textLength="40" lengthAdjust="spacingAndGlyphs">0.5Y</text>
<text x="1195.8" y="1452" font-size="16.2" font-weight="bold" stroke-width="1" textLength="37.6" lengthAdjust="spacingAndGlyphs">0.5Y</text>
<polyline points="1168.8,1390 1168.8,1507.9 877,1516.6" stroke-width="3.7"/>
<text x="1160.8" y="1523.1" font-size="16.2" font-weight="bold" stroke-width="1" textLength="59.3" lengthAdjust="spacingAndGlyphs">0.85LY</text>
<text x="1269.3" y="1432.7" font-size="16.2" font-weight="bold" stroke-width="1" textLength="40" lengthAdjust="spacingAndGlyphs">B-40</text>
<polyline points="1287,1448.5 1276,1457.3 1287,1466.1" stroke-width="3.7"/>
<polyline points="1296,1448.5 1285,1457.3 1296,1466.1" stroke-width="3.7"/>
<line x1="1279.7" y1="1465" x2="1281" y2="1690" stroke-width="2.5" stroke-dasharray="14 8" stroke-linecap="butt"/>
<line x1="1289.2" y1="1465" x2="1290.5" y2="1690" stroke-width="2.5" stroke-dasharray="14 8" stroke-linecap="butt"/>
<text x="1300.5" y="1473.5" font-size="16" font-weight="bold" stroke-width="1">1</text>
<text x="1298.3" y="1527.9" font-size="17.9" font-weight="bold" stroke-width="1.1" textLength="8.5" lengthAdjust="spacingAndGlyphs">2</text>
<text x="1297.1" y="1567.5" font-size="16" font-weight="bold" stroke-width="1" textLength="8" lengthAdjust="spacingAndGlyphs">7</text>
<text x="1298.2" y="1608" font-size="18.3" font-weight="bold" stroke-width="1.1" textLength="8.4" lengthAdjust="spacingAndGlyphs">3</text>
<text x="1299.2" y="1642.8" font-size="16.8" font-weight="bold" stroke-width="1" textLength="7.5" lengthAdjust="spacingAndGlyphs">5</text>
<text x="1301.3" y="1686.1" font-size="17" font-weight="bold" stroke-width="1" textLength="8.5" lengthAdjust="spacingAndGlyphs">6</text>
<text x="1300.3" y="1719.8" font-size="15.5" font-weight="bold" stroke-width="0.9" textLength="8.6" lengthAdjust="spacingAndGlyphs">4</text>
<text x="1372" y="1424.5" font-size="25.7" font-weight="bold" stroke-width="1.5" textLength="80" lengthAdjust="spacingAndGlyphs">Держа-</text>
<text x="1372.6" y="1454.4" font-size="25.8" font-weight="bold" stroke-width="1.5" textLength="52.9" lengthAdjust="spacingAndGlyphs">тель</text>
<text x="1374.6" y="1483.6" font-size="25.8" font-weight="bold" stroke-width="1.5" textLength="76.1" lengthAdjust="spacingAndGlyphs">предо-</text>
<text x="1374" y="1512.7" font-size="25.8" font-weight="bold" stroke-width="1.5" textLength="75.3" lengthAdjust="spacingAndGlyphs">храни-</text>
<text x="1372.8" y="1546.9" font-size="25.8" font-weight="bold" stroke-width="1.5" textLength="64.5" lengthAdjust="spacingAndGlyphs">телей</text>
<text x="376.5" y="1049.8" font-size="25.4" font-weight="bold" stroke-width="1.5" textLength="110.5" lengthAdjust="spacingAndGlyphs">Главный</text>
<text x="376.5" y="1080.6" font-size="25.4" font-weight="bold" stroke-width="1.5" textLength="83.5" lengthAdjust="spacingAndGlyphs">предо-</text>
<text x="376.5" y="1108.6" font-size="25.4" font-weight="bold" stroke-width="1.5" textLength="81.7" lengthAdjust="spacingAndGlyphs">храни-</text>
<text x="378.3" y="1139.3" font-size="25.4" font-weight="bold" stroke-width="1.5" textLength="54.5" lengthAdjust="spacingAndGlyphs">тель</text>
<polygon points="321.3,1152.7 437.3,1151.8 438.2,1249.7 322.2,1252.4" stroke-width="7" fill="none"/>
<circle cx="348.6" cy="1174.5" r="5.4" stroke-width="3" fill="#fff"/>
<circle cx="378.4" cy="1174.5" r="5.4" stroke-width="3" fill="#fff"/>
<circle cx="409.1" cy="1173.6" r="5.4" stroke-width="3" fill="#fff"/>
<circle cx="350.4" cy="1228.8" r="5.4" stroke-width="3" fill="#fff"/>
<circle cx="382" cy="1227" r="5.4" stroke-width="3" fill="#fff"/>
<circle cx="411" cy="1225" r="5.4" stroke-width="3" fill="#fff"/>
<path d="M348 1180 C350 1192 340 1196 333 1200 C345 1203 355 1206 352 1223" stroke-width="3.7" fill="none"/>
<path d="M378 1180 C372 1192 362 1190 356 1196 C362 1205 378 1206 382 1221" stroke-width="3.7" fill="none"/>
<path d="M409 1179 C404 1190 396 1188 390 1195 C400 1205 412 1208 411 1219" stroke-width="3.7" fill="none"/>
<path d="M333 1178 L348 1174 M345 1186 L365 1183 M372 1186 L400 1182" stroke-width="3.7" fill="none"/>
<polygon points="330,1185 343,1183 345,1192 331,1195" stroke-width="2" fill="#000"/>
<polygon points="355,1195 368,1192 369,1201 356,1203" stroke-width="2" fill="#000"/>
<polygon points="385,1195 398,1193 399,1202 386,1204" stroke-width="2" fill="#000"/>
<polygon points="330,1205 346,1205 346,1212 330,1212" stroke-width="2" fill="#000"/>
<line x1="382" y1="1233" x2="383" y2="1250" stroke-width="3.7"/>
<line x1="383.8" y1="1252" x2="384.5" y2="1352.4" stroke-width="3.7"/>
<polygon points="350.5,1355.9 411.2,1355.5 413.9,1485.5 352.2,1486.4" stroke-width="7" fill="none"/>
<line x1="384.5" y1="1355" x2="385" y2="1386.4" stroke-width="3.7"/>
<line x1="370.4" y1="1386.4" x2="403" y2="1386.4" stroke-width="4.9"/>
<line x1="379.5" y1="1396.2" x2="394" y2="1396.2" stroke-width="4.9"/>
<line x1="386.7" y1="1396" x2="386.7" y2="1449.2" stroke-width="3.7"/>
<line x1="370.4" y1="1449.2" x2="403.9" y2="1449.2" stroke-width="4.9"/>
<line x1="378.6" y1="1459" x2="394.8" y2="1459" stroke-width="4.9"/>
<line x1="385.8" y1="1459" x2="386" y2="1486" stroke-width="3.7"/>
<polyline points="386,1486 387,1600 387.5,1605" stroke-width="3.7"/>
<line x1="370" y1="1607" x2="406" y2="1607" stroke-width="3.7"/>
<line x1="377" y1="1615" x2="399" y2="1615" stroke-width="3.7"/>
<line x1="384" y1="1623" x2="392" y2="1623" stroke-width="3.7"/>
<text x="299.8" y="1664.2" font-size="26.7" font-weight="bold" stroke-width="1.6" textLength="231.4" lengthAdjust="spacingAndGlyphs">Корпусной провод</text>
<text x="299.8" y="1691.2" font-size="26.7" font-weight="bold" stroke-width="1.6" textLength="239.4" lengthAdjust="spacingAndGlyphs">от аккумуляторной</text>
<text x="371.8" y="1721.2" font-size="26.7" font-weight="bold" stroke-width="1.6" textLength="99.4" lengthAdjust="spacingAndGlyphs">батареи</text>
<line x1="506.8" y1="1061.5" x2="509.5" y2="1275.8" stroke-width="3.7"/>
<polyline points="495.9,1239.4 509.5,1222.4 523.1,1239.4" stroke-width="4.3"/>
<polyline points="495.9,1257.4 509.5,1240.4 523.1,1257.4" stroke-width="4.3"/>
<polygon points="509.5,1222.4 490,1250 488,1265 500,1248" stroke-width="1.5" fill="#000"/>
<text x="526" y="1227.2" font-size="19.3" font-weight="bold" stroke-width="1.2" textLength="43.4" lengthAdjust="spacingAndGlyphs">B-09</text>
<polygon points="442.3,1280.5 568.9,1280.3 569.5,1397.8 443.5,1400.5" stroke-width="7" fill="none"/>
<circle cx="508.8" cy="1338.9" r="22.6" stroke-width="3.7" fill="#fff"/>
<polygon points="498,1308 520.5,1308 520.5,1318 498,1318" stroke-width="1" fill="#000"/>
<polygon points="498,1359.7 520.5,1359.7 520.5,1370.5 498,1370.5" stroke-width="1" fill="#000"/>
<text x="499.6" y="1344.4" font-size="18.7" font-weight="bold" stroke-width="1.1" textLength="15.9" lengthAdjust="spacingAndGlyphs">M</text>
<line x1="507" y1="1370.5" x2="507" y2="1404" stroke-width="3.7"/>
<polyline points="507,1404 507,1442 511.5,1529.7 512.4,1590.2 700.1,1587.5" stroke-width="3.7"/>
<polyline points="494.2,1413.3 507,1429.3 519.8,1413.3" stroke-width="4.3"/>
<polyline points="494.2,1400.3 507,1416.3 519.8,1400.3" stroke-width="4.3"/>
<text x="535.5" y="1421.5" font-size="16.8" font-weight="bold" stroke-width="1">1</text>
<text x="584" y="1297" font-size="27.4" font-weight="bold" stroke-width="1.6" textLength="38.2" lengthAdjust="spacingAndGlyphs">Эл.</text>
<text x="584" y="1327.1" font-size="27.4" font-weight="bold" stroke-width="1.6" textLength="62.2" lengthAdjust="spacingAndGlyphs">двиг.</text>
<text x="585.2" y="1356" font-size="27.4" font-weight="bold" stroke-width="1.6" textLength="49" lengthAdjust="spacingAndGlyphs">вен-</text>
<text x="586.5" y="1385" font-size="27.4" font-weight="bold" stroke-width="1.6" textLength="61" lengthAdjust="spacingAndGlyphs">тиля-</text>
<text x="586.5" y="1413.7" font-size="27.4" font-weight="bold" stroke-width="1.6" textLength="52.4" lengthAdjust="spacingAndGlyphs">тора</text>
<text x="570.4" y="1578.5" font-size="17.6" font-weight="bold" stroke-width="1.1" textLength="53.2" lengthAdjust="spacingAndGlyphs">2.0LR</text>
<text x="750.8" y="1264.5" font-size="25.4" font-weight="bold" stroke-width="1.5" textLength="114.3" lengthAdjust="spacingAndGlyphs">Резистор</text>
<polygon points="663.3,1282 863.7,1280.9 864.9,1446.2 664.2,1448" stroke-width="7" fill="none"/>
<polyline points="695.5,1351 695.5,1309.6 791.3,1309.6 791.3,1322.2" stroke-width="3.7"/>
<circle cx="742.9" cy="1309.6" r="9" fill="#000" stroke="none"/>
<polyline points="695.5,1351 702.5,1355.8 688.5,1365.5 702.5,1375.2 688.5,1384.8 702.5,1394.5 688.5,1404.2 695.5,1409" stroke-width="3.7"/>
<polyline points="695.5,1409 698.6,1449 698.6,1488.6" stroke-width="3.7"/>
<text x="708.1" y="1384.1" font-size="15.6" font-weight="bold" stroke-width="0.9" textLength="12.7" lengthAdjust="spacingAndGlyphs">R</text>
<polyline points="742.9,1309.6 744.7,1356.6 747.4,1449 749.2,1530 752,1729.8 755.6,1902" stroke-width="3.7"/>
<polyline points="791.3,1322.2 798.3,1327.3 784.3,1337.4 798.3,1347.6 784.3,1357.7 798.3,1367.8 791.3,1372.9" stroke-width="3.7"/>
<line x1="791.3" y1="1372.9" x2="791.7" y2="1381.9" stroke-width="3.7"/>
<circle cx="791.7" cy="1381.9" r="8" fill="#000" stroke="none"/>
<text x="803.9" y="1351.5" font-size="16.8" font-weight="bold" stroke-width="1" textLength="11.6" lengthAdjust="spacingAndGlyphs">R</text>
<polyline points="791.7,1378 795,1374 801.7,1382 808.3,1374 814.9,1382 821.5,1374 828.2,1382 831.5,1378" stroke-width="3.7"/>
<polyline points="831.5,1378 833.3,1390 835,1449 836,1486.8" stroke-width="3.7"/>
<text x="806.6" y="1400.4" font-size="15.8" font-weight="bold" stroke-width="0.9" textLength="12.7" lengthAdjust="spacingAndGlyphs">R</text>
<polyline points="791.7,1381.9 793.5,1449 795.3,1530 802.6,1873 802.6,1900" stroke-width="3.7"/>
<polygon points="684.5,1456 698,1468.2 711.5,1456 711.5,1471.8 698,1491 684.5,1471.8" stroke-width="1.5" fill="#000"/>
<polygon points="822.2,1453 835.7,1465.2 849.2,1453 849.2,1468.8 835.7,1488 822.2,1468.8" stroke-width="1.5" fill="#000"/>
<line x1="708.5" y1="1468.7" x2="822.4" y2="1468.7" stroke-width="2.5" stroke-dasharray="10 8" stroke-linecap="butt"/>
<text x="613.2" y="1480" font-size="15.8" font-weight="bold" stroke-width="0.9" textLength="40.6" lengthAdjust="spacingAndGlyphs">B-10</text>
<text x="709" y="1504.4" font-size="17" font-weight="bold" stroke-width="1" textLength="8.9" lengthAdjust="spacingAndGlyphs">3</text>
<text x="753.3" y="1500.7" font-size="15.6" font-weight="bold" stroke-width="0.9">1</text>
<text x="802.1" y="1498.9" font-size="18" font-weight="bold" stroke-width="1.1" textLength="9.8" lengthAdjust="spacingAndGlyphs">2</text>
<text x="845.5" y="1499.8" font-size="15.6" font-weight="bold" stroke-width="0.9" textLength="7.3" lengthAdjust="spacingAndGlyphs">4</text>
<polyline points="698.6,1488.6 699.5,1530 700.1,1587.5 705,1737 708.6,1876.8 707.6,1931" stroke-width="3.7"/>
<circle cx="700.1" cy="1587.5" r="8" fill="#000" stroke="none"/>
<polyline points="836,1486.8 836.3,1520 843.6,1857.5 846.9,1927" stroke-width="3.7"/>
<polyline points="869,1029 872,1240 875.8,1516.6 877.3,1520 884.6,1831" stroke-width="3.7"/>
<circle cx="875.8" cy="1516.6" r="8" fill="#000" stroke="none"/>
<text x="688.9" y="1716.5" font-size="20" font-weight="bold" textLength="32.5" lengthAdjust="spacingAndGlyphs" transform="rotate(-90 688.9 1716.5)">20L</text>
<text x="734.7" y="1712.9" font-size="20" font-weight="bold" textLength="56.7" lengthAdjust="spacingAndGlyphs" transform="rotate(-90 734.7 1712.9)">125LB</text>
<text x="785.4" y="1715.3" font-size="20" font-weight="bold" textLength="55.5" lengthAdjust="spacingAndGlyphs" transform="rotate(-90 785.4 1715.3)">125LY</text>
<text x="828.8" y="1706.9" font-size="20" font-weight="bold" textLength="69.9" lengthAdjust="spacingAndGlyphs" transform="rotate(-90 828.8 1706.9)">0.85LW</text>
<text x="867.4" y="1709.3" font-size="20" font-weight="bold" textLength="44.6" lengthAdjust="spacingAndGlyphs" transform="rotate(-90 867.4 1709.3)">0.5G</text>
<text x="557.3" y="1793.1" font-size="19.4" font-weight="bold" stroke-width="1.2" textLength="36.1" lengthAdjust="spacingAndGlyphs">20B</text>
<polyline points="524,1995 521.7,1806.9 670,1804.5 671.2,1835.9" stroke-width="3.7"/>
<line x1="506" y1="1997" x2="542" y2="1997" stroke-width="3.7"/>
<line x1="513" y1="2005" x2="535" y2="2005" stroke-width="3.7"/>
<line x1="520" y1="2013" x2="528" y2="2013" stroke-width="3.7"/>
<polygon points="657,1875.6 670,1862.1 683,1875.6 683,1858.2 670,1837 657,1858.2" stroke-width="1.5" fill="#000"/>
<polygon points="872.6,1864.8 884.6,1853 896.6,1864.8 896.6,1849.6 884.6,1831 872.6,1849.6" stroke-width="1.5" fill="#000"/>
<line x1="684.4" y1="1862.4" x2="872.5" y2="1857.5" stroke-width="2.5" stroke-dasharray="10 8" stroke-linecap="butt"/>
<text x="604.2" y="1870.3" font-size="17.8" font-weight="bold" stroke-width="1.1" textLength="38.7" lengthAdjust="spacingAndGlyphs">B-11</text>
<text x="680.1" y="1837.8" font-size="16.2" font-weight="bold" stroke-width="1">1</text>
<text x="715.1" y="1836.5" font-size="16" font-weight="bold" stroke-width="1" textLength="8.6" lengthAdjust="spacingAndGlyphs">6</text>
<text x="764.5" y="1836.5" font-size="16" font-weight="bold" stroke-width="1" textLength="9.9" lengthAdjust="spacingAndGlyphs">3</text>
<text x="810.3" y="1836.5" font-size="16" font-weight="bold" stroke-width="1" textLength="11.1" lengthAdjust="spacingAndGlyphs">5</text>
<text x="854.9" y="1834.1" font-size="16" font-weight="bold" stroke-width="1" textLength="7.5" lengthAdjust="spacingAndGlyphs">4</text>
<text x="897.1" y="1827.9" font-size="17.4" font-weight="bold" stroke-width="1" textLength="9" lengthAdjust="spacingAndGlyphs">2</text>
<polygon points="628.5,1883.3 925.4,1874.4 930.2,2052.3 634.6,2065.5" stroke-width="7" fill="none"/>
<text x="685" y="1908.8" font-size="19.4" font-weight="bold" stroke-width="1.2" textLength="9.7" lengthAdjust="spacingAndGlyphs">E</text>
<text x="722.3" y="1904.1" font-size="17.8" font-weight="bold" stroke-width="1.1" textLength="19.4" lengthAdjust="spacingAndGlyphs">HI</text>
<text x="764.6" y="1902.8" font-size="19.4" font-weight="bold" stroke-width="1.2" textLength="30.2" lengthAdjust="spacingAndGlyphs">MH</text>
<text x="815.2" y="1901.6" font-size="19.4" font-weight="bold" stroke-width="1.2" textLength="27.8" lengthAdjust="spacingAndGlyphs">ML</text>
<text x="853.8" y="1900.4" font-size="21" font-weight="bold" stroke-width="1.3" textLength="27.7" lengthAdjust="spacingAndGlyphs">LO</text>
<text x="898" y="1898.5" font-size="17.6" font-weight="bold" stroke-width="1.1" textLength="12.2" lengthAdjust="spacingAndGlyphs">C</text>
<circle cx="707" cy="1937.6" r="6" stroke-width="3" fill="#fff"/>
<circle cx="756.5" cy="1908.7" r="6" stroke-width="3" fill="#fff"/>
<circle cx="802.3" cy="1906.3" r="6" stroke-width="3" fill="#fff"/>
<circle cx="848.1" cy="1932.8" r="6" stroke-width="3" fill="#fff"/>
<polyline points="671.4,1861.7 674.5,2002.7 777,1997" stroke-width="3.7"/>
<circle cx="783" cy="1996.7" r="6" stroke-width="3" fill="#fff"/>
<line x1="788" y1="1994" x2="868.6" y2="1958" stroke-width="3.7"/>
<circle cx="867.4" cy="1973.8" r="5" stroke-width="3" fill="#fff"/>
<text x="871.5" y="1991.4" font-size="17.8" font-weight="bold" stroke-width="1.1" textLength="37.5" lengthAdjust="spacingAndGlyphs">OFF</text>
<path d="M750 1957 Q775 1943 804 1950 Q776 1950 752 1962 Z" stroke-width="3" fill="none"/>
<circle cx="804.7" cy="1949.7" r="5" fill="#000" stroke="none"/>
<polyline points="804.7,1949.7 887.9,1947.3 885.5,1862.9" stroke-width="3.7"/>
<line x1="784.2" y1="2002.7" x2="786.6" y2="2095.6" stroke-width="3.7"/>
<text x="617.4" y="2106.9" font-size="22.6" font-weight="bold" stroke-width="1.4" textLength="343.6" lengthAdjust="spacingAndGlyphs" transform="rotate(-1.8 616.7 2107.6)">Выключатель вентилятора</text>
<circle cx="921.7" cy="1548.1" r="10" fill="#000" stroke="none"/>
<polyline points="1042,1643.5 1032,1644 1032,1559 1723,1543.5" stroke-width="3.7"/>
<path d="M1042 1643 C1051.8 1638.8 1059.5 1631.6 1081 1631 L1081 1655 C1059.5 1654.4 1051.8 1647.2 1042 1643 Z" stroke-width="1.5" fill="#000"/>
<polygon points="1079,1639.2 1070.9,1643 1079,1646.8" stroke-width="0.5" fill="#fff"/>
<path d="M1042.9 1693.7 C1052.4 1689.3 1060 1681.8 1080.9 1681.2 L1080.9 1706.2 C1060 1705.6 1052.4 1698.1 1042.9 1693.7 Z" stroke-width="1.5" fill="#000"/>
<polygon points="1078.9,1689.7 1071,1693.7 1078.9,1697.7" stroke-width="0.5" fill="#fff"/>
<polygon points="1080.8,1626.8 1160.4,1626.8 1160.4,1704.6 1080.8,1704.6" stroke-width="3.7" fill="none"/>
<line x1="1104.3" y1="1626.8" x2="1104.3" y2="1704.6" stroke-width="3.7"/>
<line x1="1080.8" y1="1652" x2="1104.3" y2="1652" stroke-width="3.7"/>
<line x1="1080.8" y1="1680" x2="1104.3" y2="1680" stroke-width="3.7"/>
<polygon points="1104.3,1641.3 1139.6,1641.3 1139.6,1690 1104.3,1690" stroke-width="3.7" fill="none"/>
<circle cx="1135" cy="1654" r="6" stroke-width="3" fill="#fff"/>
<circle cx="1135" cy="1675.6" r="6" stroke-width="3" fill="#fff"/>
<line x1="1074" y1="1655" x2="1074" y2="1672" stroke-width="3"/>
<text x="1046.1" y="1620" font-size="17" font-weight="bold" stroke-width="1" textLength="41.4" lengthAdjust="spacingAndGlyphs">A-25</text>
<text x="933.3" y="1627.8" font-size="25.4" font-weight="bold" stroke-width="1.5" textLength="66.5" lengthAdjust="spacingAndGlyphs">Комб.</text>
<text x="933.3" y="1656.7" font-size="25.4" font-weight="bold" stroke-width="1.5" textLength="81.7" lengthAdjust="spacingAndGlyphs">датчик</text>
<text x="933.3" y="1684.8" font-size="25.4" font-weight="bold" stroke-width="1.5" textLength="116" lengthAdjust="spacingAndGlyphs">давления</text>
<text x="1041.5" y="1663.4" font-size="18.2" font-weight="bold" stroke-width="1.1" textLength="7.9" lengthAdjust="spacingAndGlyphs">2</text>
<text x="1050.5" y="1715.8" font-size="16.8" font-weight="bold" stroke-width="1">1</text>
<polyline points="1042.9,1693.7 1034.7,1694.6 1037.4,1840 1038,1894 1039,1919 1043,1994.5 1043,2038" stroke-width="3.7"/>
<text x="1028.9" y="1764.2" font-size="20" font-weight="bold" textLength="62.4" lengthAdjust="spacingAndGlyphs" transform="rotate(-90 1028.9 1764.2)">0.85LY</text>
<polygon points="1030,1894 1038,1886 1046,1894 1038,1902" stroke-width="1" fill="#000"/>
<polyline points="1031,1918 1039,1928 1047,1918" stroke-width="3.7"/>
<polyline points="1031,1910 1039,1920 1047,1910" stroke-width="3.7"/>
<text x="971.5" y="1925.5" font-size="17.4" font-weight="bold" stroke-width="1" textLength="39" lengthAdjust="spacingAndGlyphs">B-42</text>
<polyline points="1035,2004.5 1043,1994.5 1051,2004.5" stroke-width="3.7"/>
<polyline points="1035,2016.5 1043,2006.5 1051,2016.5" stroke-width="3.7"/>
<text x="969.5" y="2015.5" font-size="16.7" font-weight="bold" stroke-width="1" textLength="40.5" lengthAdjust="spacingAndGlyphs">A-28</text>
<text x="1069.5" y="2025.8" font-size="12" font-weight="normal" stroke-width="0.4">1</text>
<polyline points="1038,1894 1511,1876 1506.5,1700 1500.5,1375" stroke-width="3.7"/>
<polygon points="989.7,2041.5 1103.7,2037.9 1105.5,2141 992.4,2145.5" stroke-width="4.3" fill="none"/>
<line x1="990" y1="2050.5" x2="1104" y2="2047" stroke-width="3.7"/>
<line x1="990" y1="2057.8" x2="1104" y2="2053" stroke-width="3.7"/>
<circle cx="1047.6" cy="2095.7" r="28" stroke-width="3.7" fill="#fff"/>
<circle cx="1049.4" cy="2075" r="6" stroke-width="3" fill="#fff"/>
<circle cx="1050.3" cy="2114.7" r="6" stroke-width="3" fill="#fff"/>
<line x1="1058.4" y1="2076" x2="1058.4" y2="2114" stroke-width="3.7"/>
<line x1="1058.4" y1="2094" x2="1070.2" y2="2094" stroke-width="3.7"/>
<line x1="1050.3" y1="2121" x2="1050.3" y2="2144.6" stroke-width="3.7"/>
<polygon points="1041.3,2144.6 1050.3,2135.6 1059.3,2144.6 1050.3,2153.6" stroke-width="1" fill="#000"/>
<line x1="1050.3" y1="2144.6" x2="1055.7" y2="2280.2" stroke-width="3.7"/>
<polyline points="1046.7,2259.4 1055.7,2280.2 1063.9,2259.4" stroke-width="3.7"/>
<text x="861.8" y="2152.9" font-size="25.7" font-weight="bold" stroke-width="1.5" textLength="118.5" lengthAdjust="spacingAndGlyphs">Тепловой</text>
<text x="864.1" y="2181.9" font-size="26.7" font-weight="bold" stroke-width="1.6" textLength="167.7" lengthAdjust="spacingAndGlyphs">выключатель</text>
<text x="975.6" y="2276.3" font-size="17" font-weight="normal" stroke-width="0.5" textLength="41.1" lengthAdjust="spacingAndGlyphs">ECU</text>
<text x="976.4" y="2303.5" font-size="15.6" font-weight="normal" stroke-width="0.5" textLength="43.8" lengthAdjust="spacingAndGlyphs">(C-7)</text>
<circle cx="1173" cy="1593.3" r="8" fill="#000" stroke="none"/>
<polygon points="1353.9,1560 1432.4,1558 1432.4,1605 1355,1607.1" stroke-width="7" fill="none"/>
<circle cx="1364.1" cy="1586.4" r="5" stroke-width="3" fill="#fff"/>
<circle cx="1421.1" cy="1583.2" r="5" stroke-width="3" fill="#fff"/>
<path d="M1369.1 1586.4 C1378.5 1577.9 1383.2 1576.3 1392.6 1584.8 S1406.7 1591.7 1416.1 1583.2" stroke-width="3.7" fill="none"/>
<text x="1371" y="1577" font-size="18.9" font-weight="bold" stroke-width="2" textLength="31" lengthAdjust="spacingAndGlyphs">20A</text>
<polyline points="1435.9,1577 1643,1575.5 1771.7,1571 1775,1700 1777.2,1850 1780.3,1965.8" stroke-width="3.7"/>
<circle cx="1644" cy="1574.5" r="7.5" fill="#000" stroke="none"/>
<polyline points="1644,1574.5 1646,1618 1194.3,1628 1198.5,1858.5 1466.5,1851.1 1460,1520 1457.4,1350.4" stroke-width="3.7"/>
<text x="1563.5" y="1602.1" font-size="16.2" font-weight="bold" stroke-width="1" textLength="42.6" lengthAdjust="spacingAndGlyphs">NO.4</text>
<text x="1441" y="1647" font-size="14.5" font-weight="bold" stroke-width="2" textLength="8" lengthAdjust="spacingAndGlyphs">H</text>
<polyline points="1173,1593.3 1175.8,1620 1181.2,1840 1186.8,2040 1192.8,2305.2 1500,2294.4 1725.6,2285" stroke-width="3.7"/>
<text x="1216.8" y="1642" font-size="17" font-weight="normal" stroke-width="0.5" textLength="39.5" lengthAdjust="spacingAndGlyphs">ECU</text>
<text x="1214.6" y="1659.9" font-size="18.3" font-weight="normal" stroke-width="0.5" textLength="51.2" lengthAdjust="spacingAndGlyphs">(B-15)</text>
<polyline points="1231.2,1664.4 1221.7,1675 1231.2,1686.2" stroke-width="3"/>
<polyline points="1221.7,1675 1684,1665 1686,1700 1688,1850 1691,2004 1693.2,2064 1700.4,2064" stroke-width="3.7"/>
<polyline points="1245,1705.6 1645,1695.4 1646,1850 1649.1,1967.8" stroke-width="3.7"/>
<polyline points="1282,1695 1272,1703 1282,1711" stroke-width="3.7"/>
<polyline points="1290,1695 1280,1703 1290,1711" stroke-width="3.7"/>
<polyline points="1245,1705.6 1250.2,1913.4 1250.7,2040 1256.7,2251 1500,2246 1724,2236.4" stroke-width="3.7"/>
<polygon points="1241.2,1913.4 1250.2,1904.4 1259.2,1913.4 1250.2,1922.4" stroke-width="1" fill="#000"/>
<text x="1283.2" y="1827.7" font-size="16.7" font-weight="normal" stroke-width="0.6" textLength="40.5" lengthAdjust="spacingAndGlyphs">C-38</text>
<path d="M1296 1843 Q1284 1848 1282 1868 M1305 1842 Q1293 1848 1291 1868" stroke-width="3" fill="none"/>
<line x1="1284" y1="1884" x2="1284" y2="1900" stroke-width="3"/>
<line x1="1291" y1="1884" x2="1291" y2="1900" stroke-width="3"/>
<text x="1341.5" y="1873.9" font-size="17" font-weight="bold" stroke-width="1" textLength="53.8" lengthAdjust="spacingAndGlyphs">0.5LW</text>
<text x="1349.9" y="1900.2" font-size="17" font-weight="bold" stroke-width="1" textLength="61.2" lengthAdjust="spacingAndGlyphs">0.85LY</text>
<polyline points="1250.2,1913.4 1431.6,1907 1430,1974" stroke-width="3.7"/>
<polyline points="1288,1903.5 1278,1911.5 1288,1919.5" stroke-width="3.7"/>
<polyline points="1296,1903.5 1286,1911.5 1296,1919.5" stroke-width="3.7"/>
<polygon points="1411,1974 1446,1974 1446,1987 1411,1987" stroke-width="3.7" fill="none"/>
<polyline points="1422.8,2012 1430,2003 1437.2,2012" stroke-width="3.7"/>
<polyline points="1422.8,2020 1430,2011 1437.2,2020" stroke-width="3.7"/>
<line x1="1430" y1="1987" x2="1430" y2="2027" stroke-width="3.7"/>
<polygon points="1389.3,2027 1417,2027 1417,2099 1389.3,2099" stroke-width="3.7" fill="none"/>
<polygon points="1417,2025 1452,2025 1452,2099 1417,2099" stroke-width="3.7" fill="none"/>
<polygon points="1452,2027 1462.9,2027 1462.9,2097.9 1452,2097.9" stroke-width="3.7" fill="none"/>
<line x1="1420" y1="2045" x2="1442" y2="2045" stroke-width="4.3"/>
<line x1="1420" y1="2058" x2="1442" y2="2058" stroke-width="4.3"/>
<line x1="1420" y1="2071" x2="1442" y2="2071" stroke-width="4.3"/>
<line x1="1420" y1="2084" x2="1442" y2="2084" stroke-width="4.3"/>
<line x1="1434" y1="2099" x2="1434" y2="2126.8" stroke-width="3.7"/>
<circle cx="1434" cy="2132.8" r="6" stroke-width="3" fill="#fff"/>
<line x1="1417" y1="2139.3" x2="1453.2" y2="2139.3" stroke-width="3.7"/>
<line x1="1425.5" y1="2149.7" x2="1444.8" y2="2149.7" stroke-width="3.7"/>
<line x1="1432" y1="2157.7" x2="1436" y2="2157.7" stroke-width="3.7"/>
<text x="1462.4" y="1961.6" font-size="13.4" font-weight="bold" stroke-width="0.8" textLength="37.2" lengthAdjust="spacingAndGlyphs">A-26</text>
<text x="1312.9" y="2127.3" font-size="24.1" font-weight="bold" stroke-width="1.4" textLength="87.8" lengthAdjust="spacingAndGlyphs">Магнит-</text>
<text x="1312.9" y="2156.3" font-size="23.9" font-weight="bold" stroke-width="1.4" textLength="45.6" lengthAdjust="spacingAndGlyphs">ный</text>
<text x="1312.9" y="2184" font-size="23.9" font-weight="bold" stroke-width="1.4" textLength="66.1" lengthAdjust="spacingAndGlyphs">выкл.</text>
<text x="1571.8" y="1980.6" font-size="17.8" font-weight="bold" stroke-width="1.1" textLength="38.9" lengthAdjust="spacingAndGlyphs">B-37</text>
<polygon points="1637.1,2002.7 1649.1,1990.5 1661.1,2002.7 1661.1,1987 1649.1,1967.8 1637.1,1987" stroke-width="1.5" fill="#000"/>
<polygon points="1768.3,1998.6 1780.3,1987.1 1792.3,1998.6 1792.3,1983.8 1780.3,1965.8 1768.3,1983.8" stroke-width="1.5" fill="#000"/>
<line x1="1664.5" y1="1989.3" x2="1771" y2="1986.3" stroke-width="2.5" stroke-dasharray="12 8" stroke-linecap="butt"/>
<text x="1663.9" y="1964.4" font-size="13.8" font-weight="bold" stroke-width="0.8" textLength="8.4" lengthAdjust="spacingAndGlyphs">4</text>
<text x="1708" y="1961.2" font-size="15.1" font-weight="bold" stroke-width="0.9">1</text>
<text x="1748" y="1964.3" font-size="16.4" font-weight="bold" stroke-width="1" textLength="9.3" lengthAdjust="spacingAndGlyphs">3</text>
<text x="1789" y="1960.2" font-size="16.4" font-weight="bold" stroke-width="1" textLength="9.2" lengthAdjust="spacingAndGlyphs">2</text>
<text x="1640.3" y="1936" font-size="19" font-weight="bold" textLength="52.2" lengthAdjust="spacingAndGlyphs" transform="rotate(-90 1640.3 1936)">0.5LG</text>
<text x="1677.2" y="1934" font-size="19" font-weight="bold" textLength="64.5" lengthAdjust="spacingAndGlyphs" transform="rotate(-90 1677.2 1934)">0.85GY</text>
<text x="1725.3" y="1931" font-size="19" font-weight="bold" textLength="63.6" lengthAdjust="spacingAndGlyphs" transform="rotate(-90 1725.3 1931)">0.85BY</text>
<text x="1768.3" y="1934" font-size="19" font-weight="bold" textLength="45" lengthAdjust="spacingAndGlyphs" transform="rotate(-90 1768.3 1934)">30LR</text>
<polygon points="1617.3,2008.7 1806,2002.6 1810.1,2156.4 1621.4,2165.7" stroke-width="6" fill="none"/>
<polyline points="1650,2004 1653.2,2125.6 1695,2126.6" stroke-width="3.7"/>
<circle cx="1701.4" cy="2126.6" r="7" stroke-width="3" fill="#fff"/>
<polyline points="1781.3,2000 1785.4,2121.5 1747,2125" stroke-width="3.7"/>
<circle cx="1740.3" cy="2125.6" r="7" stroke-width="3" fill="#fff"/>
<polygon points="1700.4,2053.9 1734.2,2051.5 1734.2,2100 1703,2103" stroke-width="4.3" fill="none"/>
<line x1="1701.4" y1="2065" x2="1734.2" y2="2084.6" stroke-width="3.7"/>
<line x1="1714.7" y1="2102" x2="1714.7" y2="2128.7" stroke-width="3.7"/>
<line x1="1721.9" y1="2102" x2="1721.9" y2="2128.7" stroke-width="3.7"/>
<line x1="1699.3" y1="2141" x2="1744.4" y2="2127.7" stroke-width="3.7"/>
<text x="1596.6" y="2200.3" font-size="23.4" font-weight="bold" stroke-width="1.4" textLength="253.6" lengthAdjust="spacingAndGlyphs" transform="rotate(-2 1595.9 2201)">Реле A кондиционера</text>
<polygon points="1725,2235.6 1751,2209.6 1777,2235.6 1751,2261.6" stroke-width="4.3" fill="none"/>
<text x="1746" y="2238.4" font-size="16.4" font-weight="bold" stroke-width="1" textLength="8.2" lengthAdjust="spacingAndGlyphs">3</text>
<polygon points="1726,2286.8 1752,2260.8 1778,2286.8 1752,2312.8" stroke-width="4.3" fill="none"/>
<text x="1748.2" y="2293.5" font-size="21.9" font-weight="bold" stroke-width="1.3" textLength="10" lengthAdjust="spacingAndGlyphs">2</text>
<polygon points="1727.5,2338.8 1754,2312.3 1780.5,2338.8 1754,2365.3" stroke-width="4.3" fill="none"/>
<text x="1752.2" y="2341.7" font-size="20.5" font-weight="bold" stroke-width="1.2">1</text>
</g>
</svg>
</body></html>
